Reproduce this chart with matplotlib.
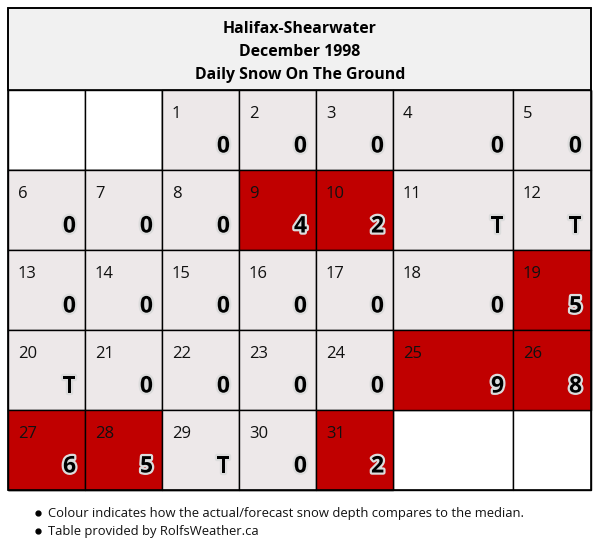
import matplotlib.pyplot as plt
import matplotlib.patheffects as pe
from matplotlib.patches import Rectangle

plt.rcParams["font.family"] = ["Open Sans", "DejaVu Sans"]

STATION = "Halifax-Shearwater"
MONTH = "December 1998"
SUBTITLE = "Daily Snow On The Ground"

days = list(range(1, 32))
snow = ["0", "0", "0", "0", "0", "0", "0", "0", "4", "2", "T", "T", "0", "0", "0",
        "0", "0", "0", "5", "T", "0", "0", "0", "0", "9", "8", "6", "5", "T", "0", "2"]
above_median = [9, 10, 19, 25, 26, 27, 28, 31]
first_weekday = 2  # Dec 1 1998 was a Tuesday (Sunday-first week)

notes = ["Colour indicates how the actual/forecast snow depth compares to the median.",
         "Table provided by RolfsWeather.ca"]

RED = "#c00000"
GREY = "#ede8e9"

W, H = 600, 553
col_edges = [8, 85, 162, 239, 316, 393, 513, 591]
row_top = 90
row_h = 80
n_rows = 5

fig = plt.figure(figsize=(W / 100, H / 100), dpi=100)
ax = fig.add_axes([0, 0, 1, 1])
ax.set_xlim(0, W)
ax.set_ylim(H, 0)
ax.axis("off")

# title box
ax.add_patch(Rectangle((col_edges[0], 8), col_edges[-1] - col_edges[0], row_top - 8,
                       facecolor="#f1f1f1", edgecolor="black", linewidth=1.2))
for i, line in enumerate([STATION, MONTH, SUBTITLE]):
    ax.text(W / 2, 29 + i * 23, line, ha="center", va="center",
            fontsize=11.4, fontweight="bold")

# empty cells
for slot in range(n_rows * 7):
    r, c = divmod(slot, 7)
    x0, x1 = col_edges[c], col_edges[c + 1]
    y0 = row_top + r * row_h
    ax.add_patch(Rectangle((x0, y0), x1 - x0, row_h, facecolor="white",
                           edgecolor="black", linewidth=1.0))

stroke = [pe.withStroke(linewidth=3.2, foreground="#dcdcdc")]
for d, v in zip(days, snow):
    slot = d - 1 + first_weekday
    r, c = divmod(slot, 7)
    x0, x1 = col_edges[c], col_edges[c + 1]
    y0 = row_top + r * row_h
    fc = RED if d in above_median else GREY
    ax.add_patch(Rectangle((x0, y0), x1 - x0, row_h, facecolor=fc,
                           edgecolor="black", linewidth=1.0))
    ax.text(x0 + 10, y0 + 24, str(d), ha="left", va="center", fontsize=12,
            color="#111111")
    ax.text(x1 - 9, y0 + 56.5, v, ha="right", va="center", fontsize=16.5,
            fontweight="bold", color="black", path_effects=stroke)

# outer border
ax.add_patch(Rectangle((col_edges[0], 8), col_edges[-1] - col_edges[0],
                       row_top + n_rows * row_h - 8, facecolor="none",
                       edgecolor="black", linewidth=1.2))

for i, note in enumerate(notes):
    y = 513 + i * 18
    ax.plot(38, y, "o", color="black", markersize=3.5)
    ax.text(48, y, note, ha="left", va="center", fontsize=9.4, color="#111111")

fig.savefig("out.png", dpi=100)
